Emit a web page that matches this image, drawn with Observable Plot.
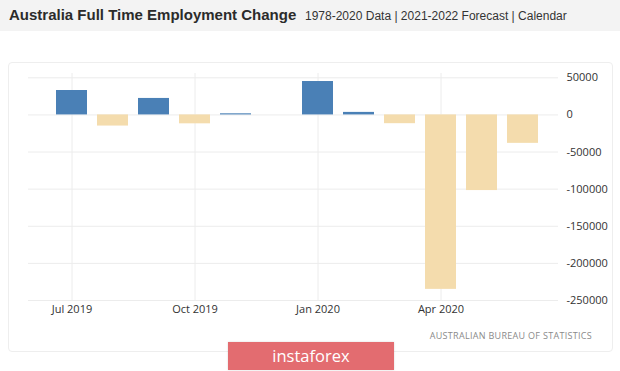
<!DOCTYPE html>
<html>
<head>
<meta charset="utf-8">
<script src="https://cdn.jsdelivr.net/npm/d3@7"></script>
<script src="https://cdn.jsdelivr.net/npm/@observablehq/plot@0.6"></script>
<style>
  html, body { margin: 0; padding: 0; }
  body { width: 620px; height: 371px; background: #ffffff; position: relative; overflow: hidden; font-family: "Liberation Sans", Arial, sans-serif; }
  #band { position: absolute; left: 0; top: 0; width: 620px; height: 31px; background: #f3f3f3; }
  #title { position: absolute; left: 9px; top: 6px; font-size: 15px; font-weight: bold; color: #2b2b2b; white-space: nowrap; }
  #subtitle { position: absolute; left: 305px; top: 9px; font-size: 12px; color: #333; white-space: nowrap; }
  #frame { position: absolute; left: 8px; top: 62px; width: 603px; height: 288px; border: 1px solid #eeeeee; border-radius: 4px; }
  #chart { position: absolute; left: 0; top: 40px; }
  #source { position: absolute; right: 28px; top: 329px; font-family: "Open Sans", sans-serif; font-size: 9px; letter-spacing: 0.3px; color: #8a8a8a; white-space: nowrap; }
  #logo { position: absolute; left: 228px; top: 342px; width: 166px; height: 28px; background: #e36c70; color: #fff; font-family: "Open Sans", sans-serif; font-size: 16.5px; line-height: 27px; text-align: center; box-shadow: 0 0 2px rgba(0,0,0,0.15); }
</style>
</head>
<body>
<div id="band"></div>
<div id="title">Australia Full Time Employment Change</div>
<div id="subtitle">1978-2020 Data | 2021-2022 Forecast | Calendar</div>
<div id="frame"></div>
<div id="chart"></div>
<div id="source">AUSTRALIAN BUREAU OF STATISTICS</div>
<div id="logo">instaforex</div>
<script>
const months = ["2019-07","2019-08","2019-09","2019-10","2019-11","2019-12","2020-01","2020-02","2020-03","2020-04","2020-05","2020-06"];
const changes = [32900, -15000, 22200, -12000, 1500, 0, 45000, 3400, -11800, -235000, -101900, -38300];
const tickMonths = ["2019-07","2019-10","2020-01","2020-04"];
const tickLabels = ["Jul 2019","Oct 2019","Jan 2020","Apr 2020"];
const yTicks = [50000, 0, -50000, -100000, -150000, -200000, -250000];

const data = months.map((m, i) => ({month: m, value: changes[i]}));
const labelOf = new Map(tickMonths.map((m, i) => [m, tickLabels[i]]));

const chart = Plot.plot({
  width: 620,
  height: 290,
  marginLeft: 28,
  marginRight: 62,
  marginTop: 33,
  marginBottom: 30,
  style: {fontFamily: "'Open Sans', sans-serif", fontSize: "11px", color: "#333", background: "transparent"},
  x: {type: "band", domain: months, range: [47.2, 545.8], paddingInner: 0.25, paddingOuter: 0.125},
  y: {domain: [-250000, 55800]},
  marks: [
    Plot.ruleY(yTicks, {stroke: "#ececec", strokeWidth: 1}),
    Plot.ruleX(tickMonths, {x: d => d, y1: -250000, y2: 55800, stroke: "#ececec", strokeWidth: 1}),
    Plot.barY(data, {x: "month", y: "value", fill: d => d.value >= 0 ? "#4a80b6" : "#f4dcad"}),
    Plot.axisX({ticks: tickMonths, tickFormat: d => labelOf.get(d), tickSize: 0, tickPadding: 5, label: null, fontSize: 11}),
    Plot.axisY({anchor: "right", ticks: yTicks, tickFormat: d => String(d), tickSize: 0, tickPadding: 8, label: null, fontSize: 11})
  ]
});
document.getElementById("chart").appendChild(chart);
</script>
</body>
</html>
